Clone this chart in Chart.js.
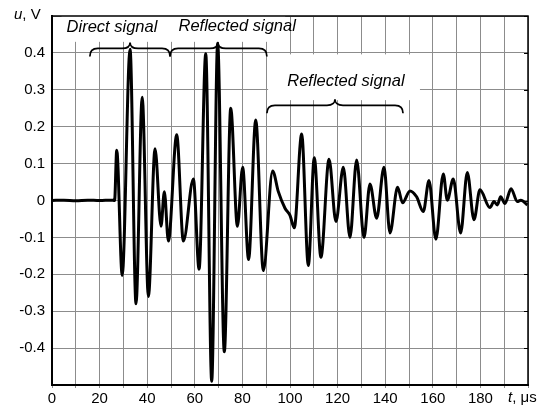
<!DOCTYPE html>
<html>
<head>
<meta charset="utf-8">
<script src="https://cdn.jsdelivr.net/npm/chart.js@4/dist/chart.umd.min.js"></script>
<style>
  html, body { margin: 0; padding: 0; background: #fff; }
</style>
</head>
<body>
<canvas id="chart" width="557" height="412"></canvas>
<script>
// time, μs
const timeUs = [
  0, 5, 10, 15, 20, 25, 26.3, 27.2, 29.5, 32.8, 35.3, 37.9, 40.5, 43.3, 45.8, 47.2, 48.9,
  52.4, 55.2, 59.4, 61.8, 64.6, 67.1, 69.6, 72.4, 75.1, 77.9, 80.1, 82.6, 85.6, 88.8,
  92.7, 95.1, 97.9, 100, 101.8, 104.9, 107.7, 110.2, 113, 116.4, 119.3, 122.4, 125.2,
  128, 131.1, 133.6, 136.4, 139.5, 142, 145.2, 147.3, 150.4, 153.2, 156, 158.4, 161.3,
  164.4, 166.1, 168.6, 171.7, 174.5, 177.3, 179.8, 184, 185.7, 187.1, 188.5, 190.3,
  192.9, 195.5, 197, 199.7
];
// voltage, V
const voltage = [
  0, 0.001, -0.001, 0.001, 0, 0.001, 0, 0.136, -0.203, 0.41, -0.28, 0.28, -0.26, 0.14, -0.07, 0.024, -0.11,
  0.178, -0.11, 0.058, -0.186, 0.398, -0.49, 0.426, -0.41, 0.25, -0.07, 0.09, -0.16, 0.218, -0.19,
  0.08, 0.024, -0.021, -0.04, -0.074, 0.18, -0.176, 0.116, -0.154, 0.112, -0.057, 0.09, -0.10,
  0.11, -0.10, 0.045, -0.048, 0.09, -0.088, 0.036, -0.006, 0.026, 0.01, -0.03, 0.054, -0.105,
  0.072, 0.001, 0.058, -0.088, 0.076, -0.052, 0.029, -0.019, -0.003, -0.012, 0.01, -0.008,
  0.032, -0.003, 0.001, -0.012
];

// annotations (in data units)
const labelTexts = ['Direct signal', 'Reflected signal', 'Reflected signal'];
const labelAt = [[25.2, 0.468], [77.8, 0.472], [123.5, 0.322]];
// braces: [from t, to t, tip t, level u]
const braces = [[15.9, 49.6, 32.8, 0.412], [49.6, 90.3, 69.7, 0.412], [90.3, 147.5, 118.9, 0.258]];
// white boxes behind labels: [t0, t1, u0, u1]
const boxes = [[4, 98, 0.43, 0.5], [90.8, 154.6, 0.272, 0.396]];

const FONT = '"Liberation Sans", Arial, sans-serif';

function drawBrace(ctx, x0, x1, xt, ym) {
  const r = 8, d = 8;
  ctx.beginPath();
  ctx.moveTo(x0, ym + d);
  ctx.quadraticCurveTo(x0, ym, x0 + r, ym);
  ctx.lineTo(xt - r, ym);
  ctx.quadraticCurveTo(xt, ym, xt, ym - 6);
  ctx.quadraticCurveTo(xt, ym, xt + r, ym);
  ctx.lineTo(x1 - r, ym);
  ctx.quadraticCurveTo(x1, ym, x1, ym + d);
  ctx.stroke();
}

const annot = {
  id: 'annot',
  beforeDraw(chart) {
    const ctx = chart.ctx;
    ctx.save();
    ctx.fillStyle = '#fff';
    ctx.fillRect(0, 0, chart.width, chart.height);
    ctx.restore();
  },
  beforeDatasetsDraw(chart) {
    const { ctx, scales: { x, y } } = chart;
    ctx.save();
    ctx.fillStyle = '#fff';
    boxes.forEach(b => {
      const x0 = x.getPixelForValue(b[0]), x1 = x.getPixelForValue(b[1]);
      const y0 = y.getPixelForValue(b[3]), y1 = y.getPixelForValue(b[2]);
      ctx.fillRect(x0, y0, x1 - x0, y1 - y0);
    });
    ctx.restore();
  },
  afterDraw(chart) {
    const { ctx, chartArea: a, scales: { x, y } } = chart;
    ctx.save();
    // frame
    ctx.strokeStyle = '#000';
    ctx.lineWidth = 1.5;
    ctx.strokeRect(a.left, a.top, a.right - a.left, a.bottom - a.top);
    // right side ticks
    ctx.lineWidth = 1;
    y.ticks.forEach(t => {
      const py = Math.round(y.getPixelForValue(t.value)) + 0.5;
      ctx.beginPath();
      ctx.moveTo(a.right, py);
      ctx.lineTo(a.right - 4, py);
      ctx.stroke();
    });
    // braces
    ctx.lineWidth = 1.7;
    braces.forEach(b => {
      drawBrace(ctx, x.getPixelForValue(b[0]), x.getPixelForValue(b[1]),
        x.getPixelForValue(b[2]), y.getPixelForValue(b[3]));
    });
    // labels
    ctx.fillStyle = '#000';
    ctx.font = 'italic 16.5px ' + FONT;
    ctx.textAlign = 'center';
    ctx.textBaseline = 'middle';
    labelTexts.forEach((s, i) => {
      ctx.fillText(s, x.getPixelForValue(labelAt[i][0]), y.getPixelForValue(labelAt[i][1]));
    });
    // axis titles
    ctx.textAlign = 'left';
    ctx.font = 'italic 15px ' + FONT;
    ctx.fillText('u', 14, 15);
    let w = ctx.measureText('u').width;
    ctx.font = '15px ' + FONT;
    ctx.fillText(', V', 14 + w, 15);
    ctx.font = 'italic 15px ' + FONT;
    ctx.fillText('t', 508, 398);
    w = ctx.measureText('t').width;
    ctx.font = '15px ' + FONT;
    ctx.fillText(', μs', 508 + w, 398);
    ctx.restore();
  }
};

new Chart(document.getElementById('chart'), {
  type: 'line',
  data: {
    datasets: [{
      data: timeUs.map((t, i) => ({ x: t, y: voltage[i] })),
      borderColor: '#000',
      borderWidth: 3,
      pointRadius: 0,
      fill: false,
      cubicInterpolationMode: 'monotone'
    }]
  },
  options: {
    responsive: false,
    animation: false,
    layout: { padding: { top: 9, right: 29, left: 0, bottom: 0 } },
    plugins: { legend: { display: false }, tooltip: { enabled: false } },
    scales: {
      x: {
        type: 'linear',
        min: 0,
        max: 200,
        afterFit(s) { s.height = 27; },
        grid: { color: '#8c8c8c', lineWidth: 1, tickLength: 3 },
        border: { color: '#000', width: 2 },
        ticks: {
          stepSize: 10,
          autoSkip: false,
          maxRotation: 0,
          padding: 2,
          color: '#000',
          font: { family: FONT, size: 15 },
          callback: v => (Math.round(v) % 20 === 0 && v < 200) ? String(Math.round(v)) : ''
        }
      },
      y: {
        min: -0.5,
        max: 0.5,
        afterFit(s) { s.width = 52; },
        grid: { color: '#8c8c8c', lineWidth: 1, drawTicks: false },
        border: { color: '#000', width: 2 },
        ticks: {
          stepSize: 0.1,
          padding: 7,
          color: '#000',
          font: { family: FONT, size: 15 },
          callback: v => {
            const r = Math.round(v * 10) / 10;
            if (Math.abs(r) > 0.45) return '';
            return r === 0 ? '0' : String(r);
          }
        }
      }
    }
  },
  plugins: [annot]
});
</script>
</body>
</html>
